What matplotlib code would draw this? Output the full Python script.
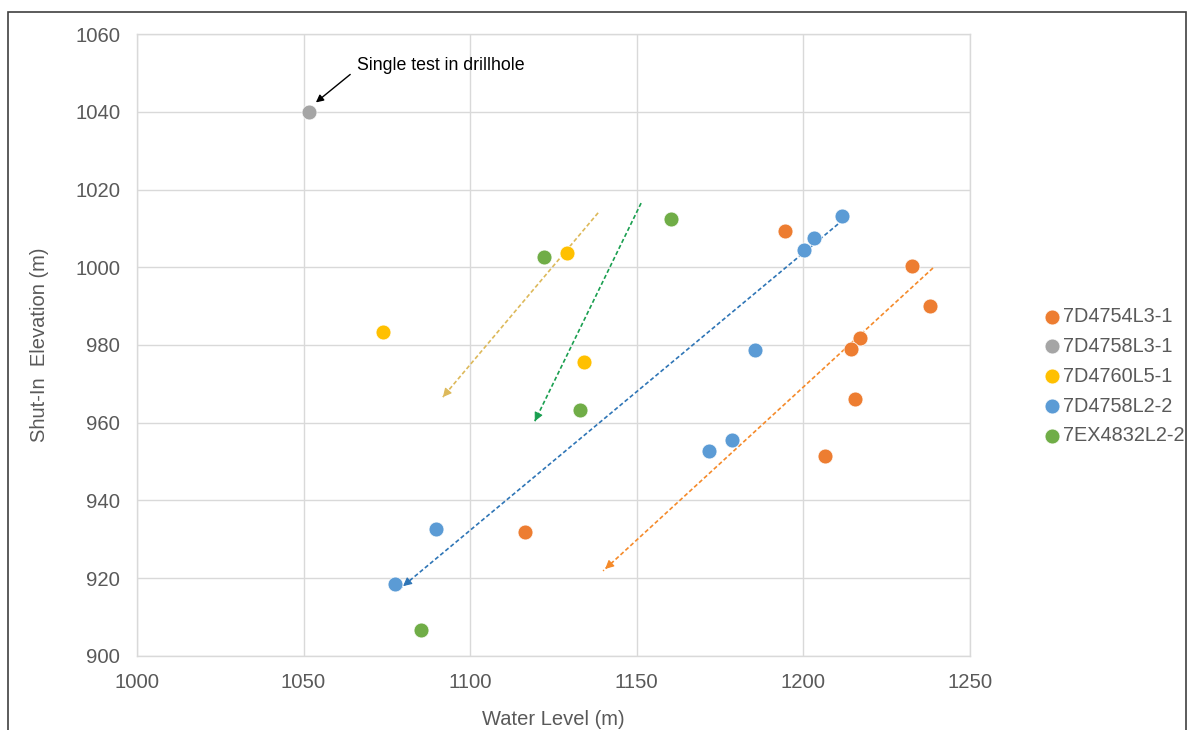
import matplotlib.pyplot as plt
from matplotlib.patches import Rectangle

plt.rcParams['font.family'] = ['Liberation Sans', 'DejaVu Sans']

# series: (water level, shut-in elevation)
names = ["7D4754L3-1", "7D4758L3-1", "7D4760L5-1", "7D4758L2-2", "7EX4832L2-2"]
colors = ["#ED7D31", "#A5A5A5", "#FFC000", "#5B9BD5", "#70AD47"]

x_4754 = [1194.5, 1232.6, 1238.0, 1217.0, 1214.3, 1215.5, 1206.5, 1116.4]
y_4754 = [1009.3, 1000.3, 990.0, 981.8, 979.0, 966.1, 951.4, 931.9]

x_4758L3 = [1051.6]
y_4758L3 = [1040.0]

x_4760 = [1073.8, 1129.1, 1134.2]
y_4760 = [983.3, 1003.7, 975.6]

x_4758L2 = [1211.6, 1203.2, 1200.2, 1185.5, 1178.6, 1171.7, 1089.7, 1077.4]
y_4758L2 = [1013.2, 1007.5, 1004.4, 978.7, 955.6, 952.7, 932.7, 918.5]

x_4832 = [1122.1, 1160.3, 1133.0, 1085.2]
y_4832 = [1002.6, 1012.4, 963.3, 906.7]

xs = [x_4754, x_4758L3, x_4760, x_4758L2, x_4832]
ys = [y_4754, y_4758L3, y_4760, y_4758L2, y_4832]

# trend arrows (start -> end), drawn dashed
arrow_starts = [(1138.4, 1014.0), (1151.3, 1016.5), (1210.4, 1011.1), (1238.9, 999.8)]
arrow_ends = [(1091.8, 966.6), (1119.4, 960.4), (1079.2, 917.5), (1139.9, 921.9)]
arrow_colors = ["#DDB95A", "#1A9F50", "#2E75B6", "#F58A2A"]

fig = plt.figure(figsize=(11.91, 7.30), dpi=100)
ax = fig.add_axes([0.115, 0.1014, 0.6994, 0.852])

ax.grid(True, color="#D9D9D9", lw=1.0)
ax.set_axisbelow(True)
for s in ax.spines.values():
    s.set_color("#D9D9D9")
    s.set_linewidth(1.0)

for x, y, c, n in zip(xs, ys, colors, names):
    ax.scatter(x, y, s=115, color=c, edgecolors="white", linewidths=0.5,
               label=n, zorder=3)

for (x0, y0), (x1, y1), c in zip(arrow_starts, arrow_ends, arrow_colors):
    ax.plot([x0, x1], [y0, y1], color=c, lw=1.2, ls=(0, (2.5, 1.5)), zorder=2)
    fx = x1 + (x0 - x1) * 0.02
    fy = y1 + (y0 - y1) * 0.02
    ax.annotate("", xy=(x1, y1), xytext=(fx, fy),
                arrowprops=dict(arrowstyle="-|>", color=c, lw=0.8,
                                mutation_scale=13), zorder=2)

ax.text(1066.0, 1051.8, "Single test in drillhole", fontsize=12.8,
        color="black", ha="left", va="center")
ax.annotate("", xy=(1053.7, 1042.4), xytext=(1064.0, 1049.6),
            arrowprops=dict(arrowstyle="-|>", color="black", lw=1.0,
                            mutation_scale=11, shrinkA=0, shrinkB=0))

ax.set_xlim(1000, 1250)
ax.set_ylim(900, 1060)
ax.set_xticks(range(1000, 1251, 50))
ax.set_yticks(range(900, 1061, 20))
ax.tick_params(length=0, labelsize=14.6, colors="#595959", pad=12)
ax.set_xlabel("Water Level (m)", fontsize=14.5, color="#595959", labelpad=13)
ax.set_ylabel("Shut-In  Elevation (m)", fontsize=14.5, color="#595959", labelpad=19)

leg = ax.legend(loc="center left", bbox_to_anchor=(1.08, 0.45), frameon=False,
                fontsize=14.3, handletextpad=0.15, handlelength=0.8,
                labelspacing=0.55, borderaxespad=0, markerscale=1.0)
for t in leg.get_texts():
    t.set_color("#595959")

# outer frame of the chart picture
fig.patches.append(Rectangle((8 / 1191, -0.1), 1178 / 1191, 1.1 - 12 / 730,
                             transform=fig.transFigure, fill=False,
                             edgecolor="#404040", lw=1.2))

fig.savefig("out.png", dpi=100)
